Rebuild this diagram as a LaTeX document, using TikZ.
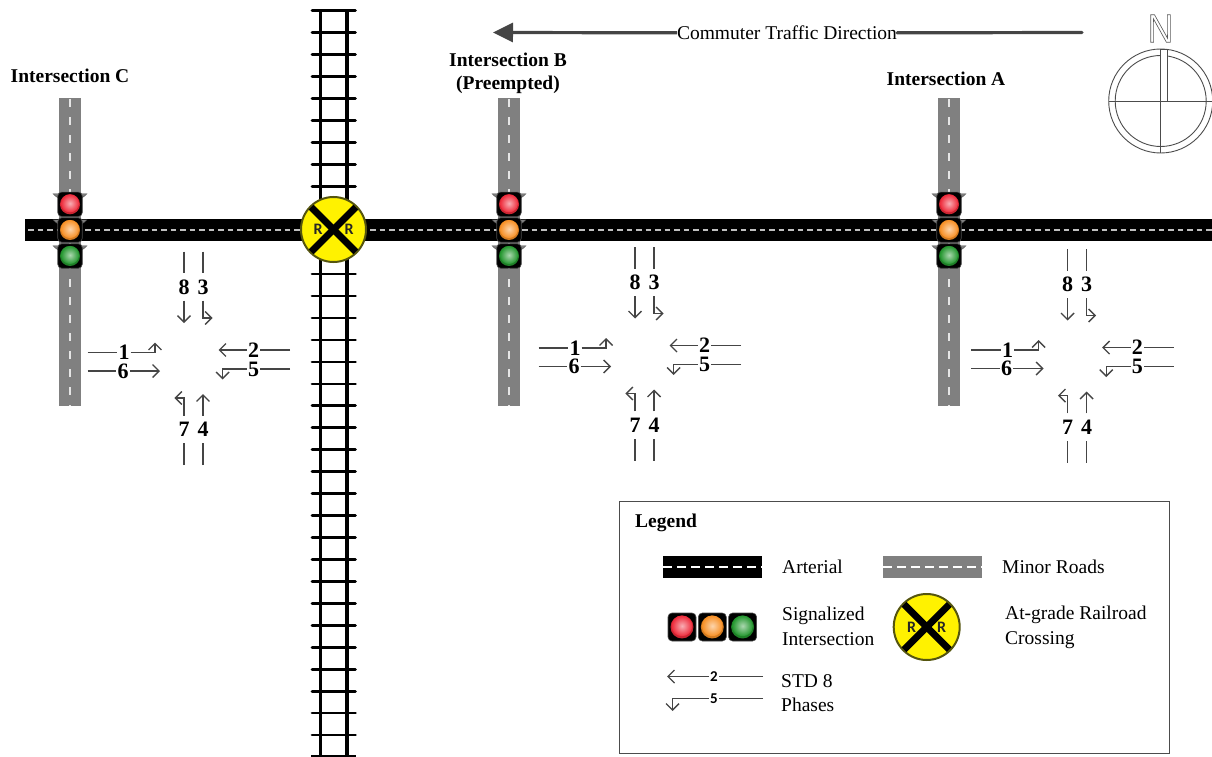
\documentclass[tikz,border=0pt]{standalone}
\usepackage{fontspec}
\setmainfont{Liberation Serif}
\newfontfamily\labelsans{Liberation Sans}
\newfontfamily\signsans{Carlito}
\usetikzlibrary{arrows.meta,calc}
\definecolor{minorgrey}{HTML}{808080}
\definecolor{lineink}{HTML}{454545}
\definecolor{signring}{HTML}{55550F}
\definecolor{sigred}{HTML}{EE2A3A}
\definecolor{sigorange}{HTML}{F78F24}
\definecolor{siggreen}{HTML}{23962E}
\newcommand{\fsz}[1]{\fontsize{#1}{#1}\selectfont}
\tikzset{
  x=1pt,y=-1pt,
  plainlabel/.style={font=\fsz{19.5}, anchor=west, inner sep=0pt, align=left},
  headlabel/.style={font=\fsz{19.5}\bfseries, inner sep=0pt},
  hdigit/.style={font=\fsz{22}\bfseries, text height=14.5pt, text depth=0pt, inner xsep=1pt, inner ysep=0pt},
  digit/.style={hdigit, minimum height=27pt},
  phase/.style={draw=lineink, line width=1.4pt},
  phasetip/.style={phase, -{Straight Barb[length=6.5pt,width=13pt,line width=1.4pt]}},
  tie/.style={line width=2.7pt, line cap=round},
  rail/.style={line width=3.2pt},
  housing/.style={fill=black, draw=black!70, line width=.6pt, rounded corners=4pt, minimum size=24pt, inner sep=0pt},
  visor/.style={fill=black!50, draw=black!75, line width=.3pt},
  compassline/.style={draw=black!70, line width=.9pt},
  legendsmall/.style={font=\fsz{15}\signsans\bfseries, fill=white, inner xsep=1pt, inner ysep=0pt},
}
% one signal lamp: name, x, y, colour, box size
\newcommand{\lamp}[5]{%
  \node[housing, minimum size=#5pt] (#1) at (#2,#3) {};
  \fill[#4!85!black] (#2,#3) circle[radius=#5*0.41];
  \shade[inner color=white!62!#4, outer color=#4] ($(#2,#3)+(0,-0.04*#5)$) circle[radius=#5*0.37];
}
% three stacked lamps with visors
\newcommand{\signalstack}[2]{%
  \foreach \yy in {195,221,247}{
    \fill[visor] (#2-17,\yy-1.2) -- (#2-11,\yy-1.2) -- (#2-11,\yy+3.5) -- (#2-14,\yy+1.5) -- cycle;
    \fill[visor] (#2+17,\yy-1.2) -- (#2+11,\yy-1.2) -- (#2+11,\yy+3.5) -- (#2+14,\yy+1.5) -- cycle;
  }
  \lamp{#1r}{#2}{204.3}{sigred}{24.5}
  \lamp{#1o}{#2}{230}{sigorange}{24.5}
  \lamp{#1g}{#2}{256}{siggreen}{24.5}
}
% crossing sign: name, x, y, radius, R offset, R size
\newcommand{\rrsign}[6]{%
  \node[circle, fill=yellow, draw=signring, line width=2pt, minimum size=#4*2pt, inner sep=0pt] (#1) at (#2,#3) {};
  \draw[line width=#4*0.21pt, shorten >=2pt, shorten <=2pt] (#1.45) -- (#1.225);
  \draw[line width=#4*0.21pt, shorten >=2pt, shorten <=2pt] (#1.135) -- (#1.315);
  \node[font=\fsz{#6}\signsans\bfseries, text=black!85, inner sep=0pt] (#1l) at (#2-#5,#3) {R};
  \node[font=\fsz{#6}\signsans\bfseries, text=black!85, inner sep=0pt] (#1m) at (#2+#5,#3) {R};
}
% eight-phase ring: prefix, dx, dy
\newcommand{\phasegroup}[3]{%
\begin{scope}[shift={(#2,#3)}, name prefix=#1-]
  \node[digit] (p8) at (184,287) {8};
  \node[digit] (p3) at (203,287) {3};
  \node[digit] (p7) at (184,429.5) {7};
  \node[digit] (p4) at (203,429.5) {4};
  \node[hdigit] (p1) at (124,352.3) {1};
  \node[hdigit] (p6) at (123,371) {6};
  \node[hdigit] (p2) at (253.7,350) {2};
  \node[hdigit] (p5) at (253.7,369) {5};
  \coordinate (t8) at (184,251.7); \coordinate (t3) at (203,251.7);
  \coordinate (b7) at (184,465); \coordinate (b4) at (203,465);
  \coordinate (l1) at (87.7,352.3); \coordinate (l6) at (87.7,371);
  \coordinate (r2) at (290,350); \coordinate (r5) at (290,369);
  \coordinate (e8) at (184,323); \coordinate (e3) at (212.5,318);
  \coordinate (e4) at (203,394); \coordinate (e7) at (174.3,398);
  \coordinate (e1) at (155,342.5); \coordinate (e6) at (160,371);
  \coordinate (e2) at (218.5,350); \coordinate (e5) at (222.7,379.5);
  \draw[phase] (t8) -- (p8); \draw[phasetip] (p8) -- (e8);
  \draw[phase] (t3) -- (p3); \draw[phasetip] (p3) |- (e3);
  \draw[phase] (b4) -- (p4); \draw[phasetip] (p4) -- (e4);
  \draw[phase] (b7) -- (p7); \draw[phasetip] (p7) |- (e7);
  \draw[phase] (l1) -- (p1); \draw[phasetip] (p1) -| (e1);
  \draw[phase] (l6) -- (p6); \draw[phasetip] (p6) -- (e6);
  \draw[phase] (r2) -- (p2); \draw[phasetip] (p2) -- (e2);
  \draw[phase] (r5) -- (p5); \draw[phasetip] (p5) -| (e5);
\end{scope}}
\newcommand{\minorroad}[1]{%
  \fill[minorgrey] (#1-11,98) rectangle (#1+11,406);
  \draw[white!90!black, line width=1.1pt, dash pattern=on 8pt off 10pt] (#1,99) -- (#1,406);
}
\begin{document}
\begin{tikzpicture}
\useasboundingbox (0,0) rectangle (1212,757);
% minor roads
\minorroad{70}\minorroad{509}\minorroad{949}
% arterial
\fill[black] (25,219) rectangle (1212,241);
\draw[black!25, line width=1.1pt, dash pattern=on 5.5pt off 4pt] (28,230) -- (1212,230);
% railway
\draw[rail] (320.5,10) -- (320.5,757);
\draw[rail] (347,10) -- (347,757);
\foreach \k in {0,...,33}{\draw[tie] (312,10.7+21.95*\k) -- (355.5,10.7+21.95*\k);}
\draw[line width=3pt] (311,756.5) -- (356,756.5);
% crossing
\rrsign{rra}{333.5}{229.5}{32.5}{15.5}{16}
% signals
\signalstack{ca}{70}
\signalstack{cb}{509}
\signalstack{cc}{949}
% phases
\phasegroup{c}{0}{0}
\phasegroup{b}{451}{-4.5}
\phasegroup{a}{883.6}{-2.4}
% headers
\node[headlabel] (hc) at (70,76) {Intersection C};
\node[headlabel] (hb) at (508,60) {Intersection B};
\node[headlabel] (hp) at (508,84.5) {(Preempted)};
\node[headlabel] (ha) at (946,78.5) {Intersection A};
% commuter arrow
\node[font=\fsz{19.5}, inner sep=0pt, fill=white] (cmt) at (787,33) {Commuter Traffic Direction};
\coordinate (cmttail) at (1082,32.5);
\coordinate (cmttip) at (493,32.5);
\draw[draw=lineink, line width=3.2pt, line cap=round] (cmttail) -- (cmt);
\draw[draw=lineink, line width=3.2pt, -{Triangle[length=20pt,width=19pt]}] (cmt) -- (cmttip);
% compass
\node[font=\fsz{40}\labelsans, xscale=.88, inner sep=0pt] (north) at (1160.5,28.5) {\special{pdf:code 1 Tr 0.7 w 0.35 G}N\special{pdf:code 0 Tr}};
\draw[compassline] (1160.7,101) circle[radius=52];
\draw[compassline] (1160.7,101) circle[radius=45.5];
\draw[compassline] (1108.7,101) -- (1212,101);
\draw[compassline] (1160.7,49) -- (1160.7,153);
\draw[compassline, fill=white] (1160.7,49.5) rectangle (1167,101);
% legend
\node[draw=black!70, line width=1pt, minimum width=550pt, minimum height=252pt, inner sep=0pt] (legendbox) at (894,627.5) {};
\node[font=\fsz{19.5}\bfseries, anchor=west, inner sep=0pt] (legendt) at (635,523) {Legend};
\fill[black] (663,556) rectangle (762,578);
\draw[white, line width=1.1pt, dash pattern=on 9pt off 5pt] (663,567) -- (762,567);
\node[plainlabel] (lart) at (782,567) {Arterial};
\fill[minorgrey] (883,556) rectangle (982,578);
\draw[white, line width=1.1pt, dash pattern=on 9pt off 5pt] (883,567) -- (982,567);
\node[plainlabel] (lmin) at (1002,567) {Minor Roads};
\lamp{lgr}{682}{627}{sigred}{28}
\lamp{lgo}{712.3}{627}{sigorange}{28}
\lamp{lgg}{742.6}{627}{siggreen}{28}
\node[plainlabel] (lsig) at (782,626.5) {Signalized\\[5pt]Intersection};
\rrsign{rrb}{926.7}{627}{33}{15}{16}
\node[plainlabel] (lcro) at (1005,627.5) {At-grade Railroad\\[5pt]Crossing};
\coordinate (lr2) at (763,676.5); \coordinate (lr5) at (763,698.7);
\coordinate (le2) at (667,676.5); \coordinate (le5) at (672.5,711);
\node[legendsmall] (ln2) at (714,676.5) {2};
\node[legendsmall] (ln5) at (714,698.7) {5};
\draw[phase] (lr2) -- (ln2); \draw[phasetip] (ln2) -- (le2);
\draw[phase] (lr5) -- (ln5); \draw[phasetip] (ln5) -| (le5);
\node[plainlabel] (lstd) at (781,693) {STD 8\\[5pt]Phases};
\end{tikzpicture}
\end{document}
